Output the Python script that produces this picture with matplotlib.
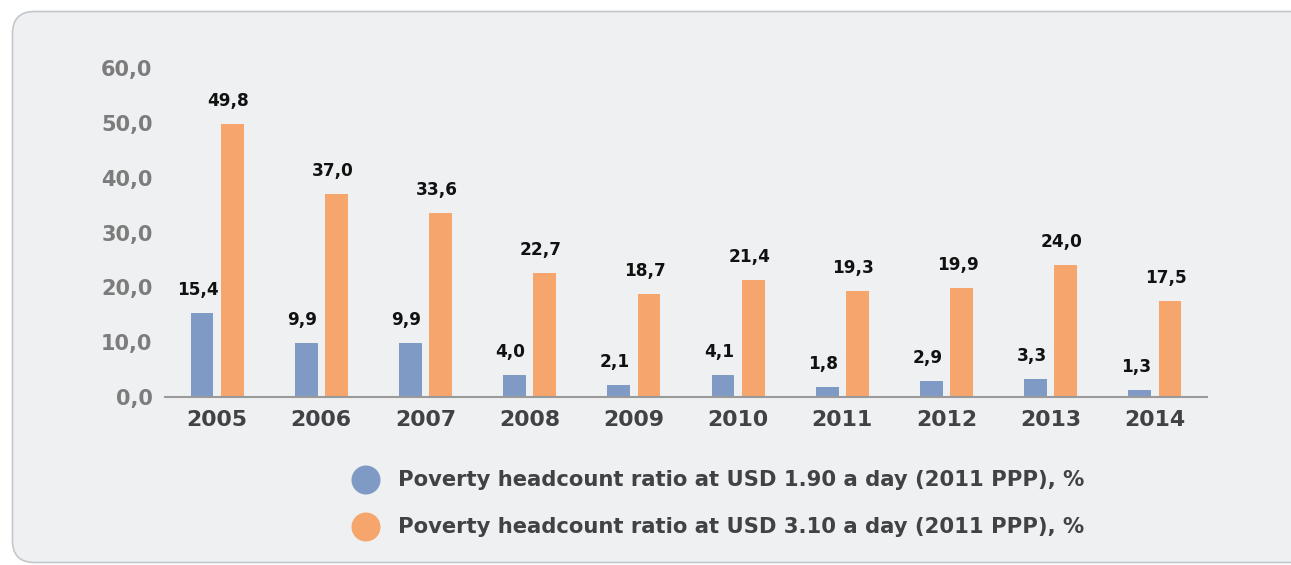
import matplotlib
matplotlib.use("Agg")
import matplotlib.pyplot as plt
from matplotlib.patches import FancyBboxPatch, Circle
import numpy as np

years = ["2005", "2006", "2007", "2008", "2009", "2010", "2011", "2012", "2013", "2014"]
usd190 = [15.4, 9.9, 9.9, 4.0, 2.1, 4.1, 1.8, 2.9, 3.3, 1.3]
usd310 = [49.8, 37.0, 33.6, 22.7, 18.7, 21.4, 19.3, 19.9, 24.0, 17.5]
yticks = [0, 10, 20, 30, 40, 50, 60]
labels = ["Poverty headcount ratio at USD 1.90 a day (2011 PPP), %",
          "Poverty headcount ratio at USD 3.10 a day (2011 PPP), %"]

BLUE = "#7F9AC4"
ORANGE = "#F6A66C"
BG = "#EFF0F2"
FONT = "DejaVu Sans"

W, H = 1291, 565
fig = plt.figure(figsize=(W / 100, H / 100), dpi=100)
fig.patch.set_facecolor("white")

def fx(px):
    return px / W

def fy(py):
    return 1 - py / H

# background panel drawn in pixel coordinates
bg = fig.add_axes([0, 0, 1, 1], zorder=-5)
bg.set_xlim(0, W)
bg.set_ylim(H, 0)
bg.axis("off")
bg.add_patch(FancyBboxPatch((12.5, 11.5), 1320, 551,
                            boxstyle="round,pad=0,rounding_size=22",
                            facecolor=BG, edgecolor="#C3C8CC", linewidth=1.2))
for i, col in enumerate([BLUE, ORANGE]):
    bg.add_patch(Circle((366, 480 + i * 47), 14.5, facecolor=col, edgecolor="none"))

ax = fig.add_axes([fx(165), fy(397), fx(1207) - fx(165), fy(68) - fy(397)])
ax.set_facecolor("none")
x = np.arange(len(years))
bw = 0.22
off = 0.145
ax.bar(x - off, usd190, bw, color=BLUE)
ax.bar(x + off, usd310, bw, color=ORANGE)

ax.set_xlim(-0.5, len(years) - 0.5)
ax.set_ylim(0, 60)
ax.set_yticks(yticks)
ax.set_yticklabels([f"{v:.1f}".replace(".", ",") for v in yticks],
                   fontsize=15, fontweight="bold", color="#7C7C7C", family=FONT)
ax.set_xticks(x)
ax.set_xticklabels(years, fontsize=15.8, fontweight="bold", color="#404245", family=FONT)
ax.tick_params(axis="y", length=0, pad=9)
ax.tick_params(axis="x", length=0, pad=9)
for s in ["top", "right", "left"]:
    ax.spines[s].set_visible(False)
ax.spines["bottom"].set_color("#9A9A9A")
ax.spines["bottom"].set_linewidth(1.5)

pt = 72 / 100
for xs, vals in ((x - off, usd190), (x + off, usd310)):
    for xi, v in zip(xs, vals):
        ax.annotate(f"{v:.1f}".replace(".", ","), (xi, v),
                    xytext=(-4 * pt, 18 * pt), textcoords="offset points",
                    ha="center", va="baseline", fontsize=12.2,
                    fontweight="bold", color="#111111", family=FONT,
                    annotation_clip=False)

# legend texts
for i, lab in enumerate(labels):
    cy = 480 + i * 47
    fig.text(fx(398), fy(cy), lab, fontsize=15.2, fontweight="bold",
             color="#404245", family=FONT, va="center", ha="left")

fig.savefig("out.png", dpi=100, facecolor="white")
